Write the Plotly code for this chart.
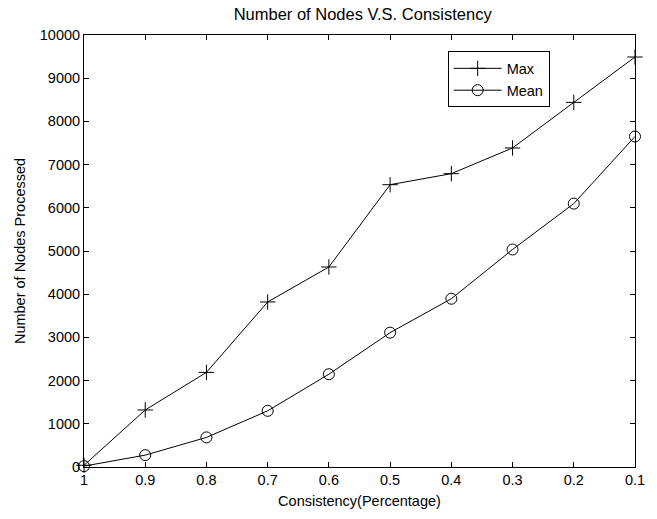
import plotly.graph_objects as go

# Consistency levels (x axis runs from 1 down to 0.1)
consistency = [1.0, 0.9, 0.8, 0.7, 0.6, 0.5, 0.4, 0.3, 0.2, 0.1]
tick_labels = ["1", "0.9", "0.8", "0.7", "0.6", "0.5", "0.4", "0.3", "0.2", "0.1"]

# Number of nodes processed
max_nodes = [40, 1320, 2190, 3820, 4630, 6535, 6790, 7385, 8440, 9490]
mean_nodes = [20, 275, 685, 1300, 2148, 3110, 3895, 5035, 6097, 7650]

FONT = "Liberation Sans, Arial, sans-serif"

fig = go.Figure()
fig.add_trace(go.Scatter(
    x=consistency, y=max_nodes, name="Max", mode="lines+markers",
    line=dict(color="black", width=1),
    marker=dict(symbol="cross-thin-open", size=11, line=dict(color="black", width=1)),
    cliponaxis=False,
))
fig.add_trace(go.Scatter(
    x=consistency, y=mean_nodes, name="Mean", mode="lines+markers",
    line=dict(color="black", width=1),
    marker=dict(symbol="circle-open", size=11, color="black", line=dict(color="black", width=1)),
    cliponaxis=False,
))

axis_common = dict(
    showgrid=False, zeroline=False, showline=True, linecolor="black", linewidth=1,
    mirror="ticks", ticks="inside", ticklen=5, tickcolor="black",
    tickfont=dict(family=FONT, size=14.5, color="black"),
)

fig.update_layout(
    width=657, height=519,
    margin=dict(l=84, r=15, t=35, b=51),
    paper_bgcolor="white", plot_bgcolor="white",
    font=dict(family=FONT, size=14.5, color="black"),
    title=dict(text="Number of Nodes V.S. Consistency", x=0.552, xanchor="center",
               y=0.972, yanchor="middle", font=dict(family=FONT, size=16.5, color="black")),
    xaxis=dict(range=[1, 0.1], tickvals=consistency, ticktext=tick_labels,
               title=dict(text="Consistency(Percentage)", standoff=8,
                          font=dict(family=FONT, size=14.5)),
               **axis_common),
    yaxis=dict(range=[0, 10000], dtick=1000, tickformat="d",
               title=dict(text="Number of Nodes Processed", standoff=10,
                          font=dict(family=FONT, size=14.5)),
               **axis_common),
    legend=dict(x=0.66, y=0.962, xanchor="left", yanchor="top",
                bgcolor="white", bordercolor="black", borderwidth=1,
                font=dict(family=FONT, size=14.5, color="black"),
                itemwidth=48, tracegroupgap=0),
    showlegend=True,
)

fig.write_html("out.html")
